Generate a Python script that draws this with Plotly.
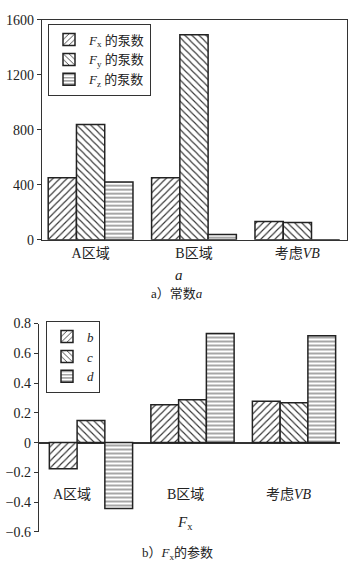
import plotly.graph_objects as go

W, H = 362, 574

categories = ["A区域", "B区域", "考虑<i>VB</i>"]

# chart a: constant a
a_names = ["<i>F</i><sub>x</sub> 的泵数", "<i>F</i><sub>y</sub> 的泵数", "<i>F</i><sub>z</sub> 的泵数"]
a_fx = [450, 450, 133]
a_fy = [837, 1490, 125]
a_fz = [420, 38, 0]

# chart b: parameters of Fx
b_names = ["<i>b</i>", "<i>c</i>", "<i>d</i>"]
b_b = [-0.175, 0.255, 0.278]
b_c = [0.148, 0.288, 0.268]
b_d = [-0.443, 0.733, 0.717]

y1_ticks = [0, 400, 800, 1200, 1600]
y2_ticks = [-0.6, -0.4, -0.2, 0, 0.2, 0.4, 0.6, 0.8]

FONT = "Liberation Serif, 'Noto Sans CJK SC', serif"
patterns = [("/", 5), ("\\", 5), ("-", 4)]
# horizontal nudges of the lower chart's category labels (pixels)
b_label_shift = [-19, -7, -5]


def px_x(p):
    return p / W


def px_y(p):
    return 1 - p / H


fig = go.Figure()

for name, vals, (shape, size) in zip(a_names, [a_fx, a_fy, a_fz], patterns):
    fig.add_trace(go.Bar(
        x=categories, y=vals, name=name, xaxis="x", yaxis="y", legend="legend",
        marker=dict(color="white", line=dict(color="#222", width=1.5),
                    pattern=dict(shape=shape, size=size, solidity=0.22,
                                 fgcolor="#333", bgcolor="white", fillmode="replace")),
    ))

for name, vals, (shape, size) in zip(b_names, [b_b, b_c, b_d], patterns):
    fig.add_trace(go.Bar(
        x=categories, y=vals, name=name, xaxis="x2", yaxis="y2", legend="legend2",
        marker=dict(color="white", line=dict(color="#222", width=1.5),
                    pattern=dict(shape=shape, size=size, solidity=0.22,
                                 fgcolor="#333", bgcolor="white", fillmode="replace")),
    ))

axis_font = dict(family=FONT, size=14, color="#222")

annotations = [
    dict(text="<i>a</i>", x=px_x(179), y=px_y(275), xref="paper", yref="paper",
         xanchor="center", yanchor="middle",
         showarrow=False, font=dict(family=FONT, size=15)),
    dict(text="a）常数<i>a</i>", x=px_x(177), y=px_y(294), xref="paper", yref="paper",
         xanchor="center", yanchor="middle",
         showarrow=False, font=dict(family=FONT, size=13)),
    dict(text="<i>F</i><sub>x</sub>", x=px_x(185), y=px_y(530), xref="paper", yref="paper",
         xanchor="center", yanchor="middle",
         showarrow=False, font=dict(family=FONT, size=15)),
    dict(text="b）<i>F</i><sub>x</sub>的参数", x=px_x(177), y=px_y(561), xref="paper", yref="paper",
         xanchor="center", yanchor="middle",
         showarrow=False, font=dict(family=FONT, size=13)),
]
for cat, shift in zip(categories, b_label_shift):
    annotations.append(dict(text=cat, x=cat, xref="x2", y=px_y(501), yref="paper",
                            xanchor="center", yanchor="middle", xshift=shift,
                            showarrow=False, font=axis_font))

fig.update_layout(
    width=W, height=H,
    margin=dict(l=0, r=0, t=0, b=0),
    paper_bgcolor="white", plot_bgcolor="white",
    font=dict(family=FONT, size=14, color="#222"),
    barmode="group", bargap=0.18, bargroupgap=0,
    showlegend=True,
    xaxis=dict(domain=[px_x(42), px_x(347)], anchor="y", range=[-0.47, 2.48],
               showline=True, linecolor="#333", linewidth=1.2, mirror=True,
               ticks="", showgrid=False, tickfont=axis_font, fixedrange=True),
    yaxis=dict(domain=[px_y(239), px_y(13)], anchor="x", range=[0, 1600],
               tickvals=y1_ticks, showline=True, linecolor="#333", linewidth=1.2,
               mirror=True, ticks="outside", ticklen=4, tickcolor="#333",
               showgrid=False, zeroline=False, tickfont=axis_font),
    xaxis2=dict(domain=[px_x(39), px_x(340)], anchor="y2",
                range=[-0.512, 2.453], showline=False, ticks="", showgrid=False,
                showticklabels=False, zeroline=False, tickfont=axis_font),
    yaxis2=dict(domain=[px_y(539), px_y(325)], anchor="x2", range=[-0.6, 0.8],
                tickvals=y2_ticks, showline=True, linecolor="#333", linewidth=1.2,
                ticks="outside", ticklen=4, tickcolor="#333", showgrid=False,
                zeroline=True, zerolinecolor="#333", zerolinewidth=1.5,
                tickfont=axis_font),
    legend=dict(x=px_x(48), y=px_y(17), xanchor="left", yanchor="top",
                bordercolor="#333", borderwidth=1, bgcolor="white",
                font=dict(family=FONT, size=13), tracegroupgap=0),
    legend2=dict(x=px_x(46), y=px_y(322), xanchor="left", yanchor="top",
                 bordercolor="#333", borderwidth=1, bgcolor="white",
                 font=dict(family=FONT, size=13), tracegroupgap=0),
    annotations=annotations,
)

fig.write_html(
    "out.html",
    config={"displayModeBar": False},
    post_script="document.body.style.margin='0';document.body.style.padding='0';",
)
